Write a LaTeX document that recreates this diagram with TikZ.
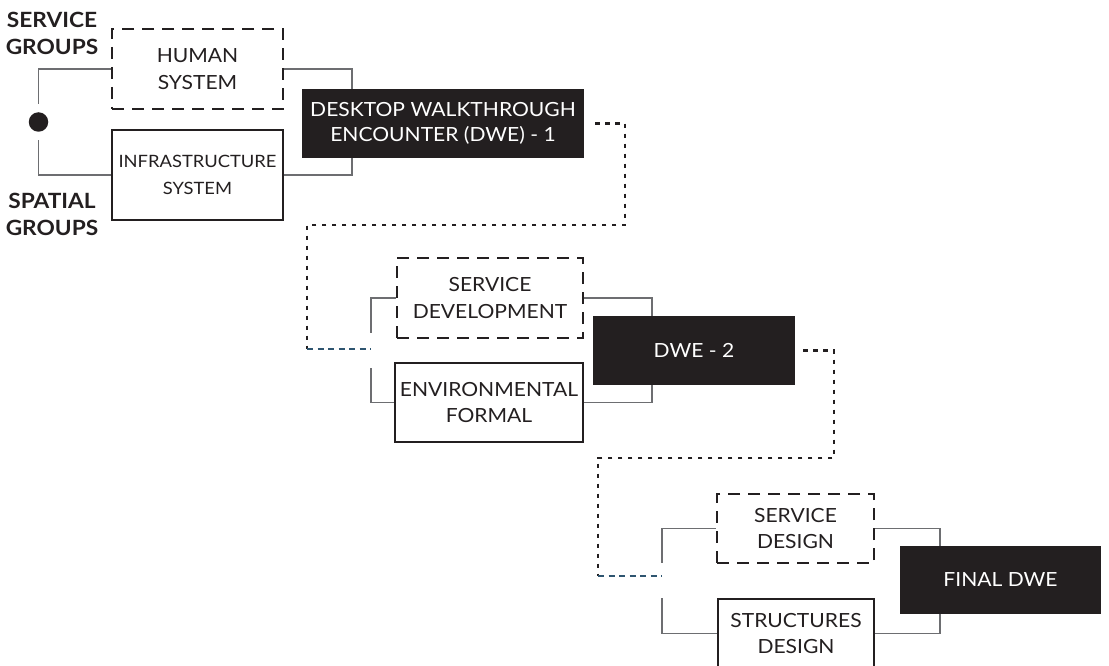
\documentclass[tikz,border=0pt]{standalone}
\usepackage{fontspec}
\setmainfont{Lato}[FakeStretch=1.08]
\definecolor{inkc}{HTML}{231F20}
\definecolor{linec}{HTML}{6D6E71}
\definecolor{bluec}{HTML}{2E5570}
\begin{document}
\begin{tikzpicture}[x=1pt,y=-1pt,
  every node/.style={inner sep=0pt, align=center, text=inkc},
  svcbox/.style={draw=inkc, line width=2.6pt, dash pattern=on 12pt off 8pt,
    font=\fontsize{19.5}{26.5}\selectfont},
  spcbox/.style={draw=inkc, line width=2.8pt, font=\fontsize{19.5}{26.5}\selectfont},
  dwebox/.style={fill=inkc, text=white, font=\fontsize{19.5}{25.5}\selectfont},
  grouplabel/.style={font=\fontsize{21}{27}\selectfont\bfseries},
  link/.style={draw=linec, line width=1.3pt},
  flow/.style={draw=inkc, line width=2.6pt, dash pattern=on 4.5pt off 5.5pt},
  flowend/.style={draw=bluec, line width=2.6pt, dash pattern=on 6pt off 4.5pt},
  bracketdot/.style={circle, fill=inkc, minimum size=19.5pt}]
\useasboundingbox (0,0) rectangle (1109,666);

% group labels
\node[grouplabel] (lsvc) at (52,33) {SERVICE\\GROUPS};
\node[grouplabel] (lspa) at (52,214) {SPATIAL\\GROUPS};

% stage 1
\node[svcbox, minimum width=171pt, minimum height=80pt] (hum) at (197.5,69) {HUMAN\\SYSTEM};
\node[spcbox, minimum width=171pt, minimum height=90pt, font=\fontsize{17}{26.5}\selectfont] (inf) at (197.5,175) {INFRASTRUCTURE\\SYSTEM};
\node[dwebox, minimum width=282pt, minimum height=69pt] (dwe1) at (443,123.5) {DESKTOP WALKTHROUGH\\ENCOUNTER (DWE) - 1};
\node[bracketdot] (dot) at (38.5,122) {};
\coordinate (j1) at (352,0);

% stage 2
\node[svcbox, minimum width=186pt, minimum height=80pt] (sdev) at (490,298) {SERVICE\\DEVELOPMENT};
\node[spcbox, minimum width=188pt, minimum height=79pt] (env) at (489,402.5) {ENVIRONMENTAL\\FORMAL};
\node[dwebox, minimum width=202pt, minimum height=69pt] (dwe2) at (694,350.5) {DWE - 2};
\coordinate (b2) at (371,349);
\coordinate (j2) at (652,0);

% stage 3
\node[svcbox, minimum width=157pt, minimum height=69pt] (sdes) at (795.5,528.5) {SERVICE\\DESIGN};
\node[spcbox, minimum width=156pt, minimum height=69pt] (str) at (796,633.5) {STRUCTURES\\DESIGN};
\node[dwebox, minimum width=201pt, minimum height=68pt] (fin) at (1000.5,580) {FINAL DWE};
\coordinate (b3) at (662,576);
\coordinate (j3) at (940,0);

% brackets into each stage
\draw[link] (hum.west) -| ([yshift=8pt]dot.north);
\draw[link] (inf.west) -| ([yshift=-8pt]dot.south);
\draw[link] (hum.east) -| (dwe1.north -| j1);
\draw[link] (inf.east) -| (dwe1.south -| j1);

\draw[link] (sdev.west) -| ([yshift=16pt]b2);
\draw[link] (env.west) -| ([yshift=-19pt]b2);
\draw[link] (sdev.east) -| (dwe2.north -| j2);
\draw[link] (env.east) -| (dwe2.south -| j2);

\draw[link] (sdes.west) -| ([yshift=13pt]b3);
\draw[link] (str.west) -| ([yshift=-22pt]b3);
\draw[link] (sdes.east) -| (fin.north -| j3);
\draw[link] (str.east) -| (fin.south -| j3);

% hand-off from one encounter to the next stage
\coordinate (f1r) at (625,225);
\coordinate (f1l) at (307,225);
\coordinate (f1b) at (307,349);
\draw[flow] ([xshift=11pt]dwe1.east) -| (f1r) -- (f1l) -- (f1b);
\draw[flowend] (f1b) -- (b2);

\coordinate (f2r) at (834,458);
\coordinate (f2l) at (598,458);
\coordinate (f2b) at (598,576);
\draw[flow] ([xshift=8pt]dwe2.east) -| (f2r) -- (f2l) -- (f2b);
\draw[flowend] (f2b) -- (b3);
\end{tikzpicture}
\end{document}
